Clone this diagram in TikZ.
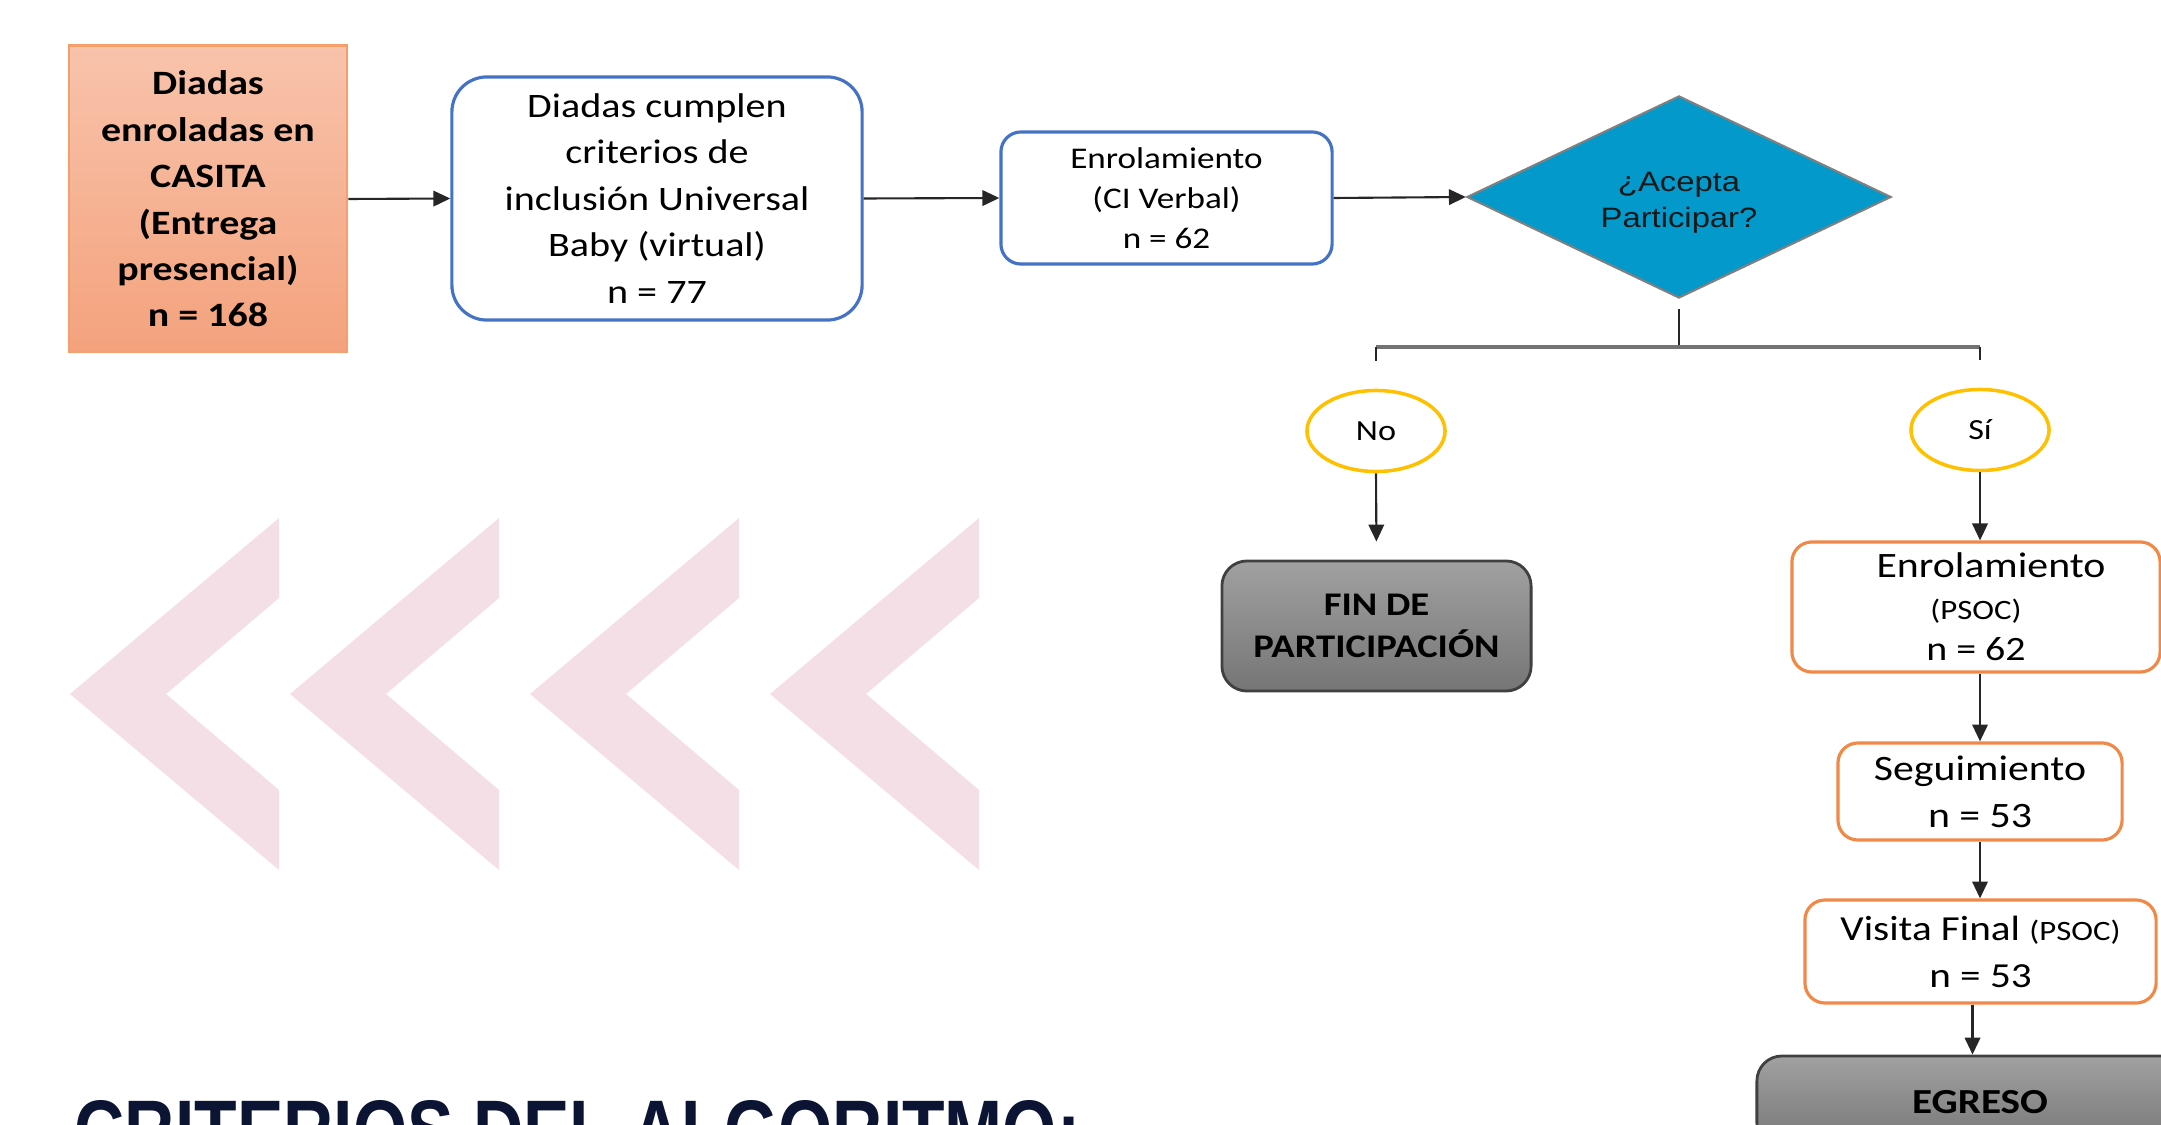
\documentclass[tikz,border=0pt]{standalone}
\usepackage{fontspec}
\usepackage{graphicx}
\setmainfont{Carlito}[FakeStretch=1.17]
\newfontfamily\arialf{Liberation Sans}[FakeStretch=1.17]
\newfontfamily\titlef{Liberation Sans}
\usetikzlibrary{shapes.geometric,arrows.meta}
\definecolor{pinkchev}{HTML}{F4DFE6}
\definecolor{bluebd}{HTML}{4472C4}
\definecolor{orangebd}{HTML}{F08848}
\definecolor{peachtop}{HTML}{F8C3AB}
\definecolor{peachbot}{HTML}{F4A27D}
\definecolor{peachbd}{HTML}{F5A06C}
\definecolor{diafill}{HTML}{0399CB}
\definecolor{yellbd}{HTML}{FFC000}
\definecolor{navy}{HTML}{0C1434}
\definecolor{linec}{HTML}{262626}
\tikzset{
  conn/.style={draw=linec, line width=0.6pt},
  arr/.style={conn, -{Triangle[length=4.8pt,width=4.4pt]}},
  bluebox/.style={draw=bluebd, line width=0.9pt, fill=white, rounded corners=0.3cm, inner sep=0pt, align=center},
  orbox/.style={draw=orangebd, line width=0.9pt, fill=white, rounded corners=0.2cm, inner sep=0pt, align=center},
  graybox/.style={draw=black!75, line width=0.8pt, top color=black!37, bottom color=black!54, rounded corners=0.25cm, inner sep=0pt, align=center, font=\fontsize{9.39pt}{11.9pt}\selectfont\bfseries},
  yesno/.style={ellipse, draw=yellbd, line width=1pt, fill=white, inner sep=0pt, minimum width=1.38cm, minimum height=0.81cm, font=\fontsize{8.3pt}{10pt}\selectfont},
  chev/.style={fill=pinkchev, draw=none}
}
\begin{document}
\begin{tikzpicture}[x=0.01cm,y=-0.01cm]
\useasboundingbox (0,0) rectangle (2161,1125);
\clip (0,0) rectangle (2161,1125);
% chevrons
\foreach \t in {70,290,530,770}{
  \fill[chev] (\t,694) -- (\t+209,518) -- (\t+209,598) -- (\t+96,694) -- (\t+209,790) -- (\t+209,870) -- cycle;
}
% nodes
\node[draw=peachbd, line width=0.8pt, top color=peachtop, bottom color=peachbot, minimum width=2.78cm, minimum height=3.06cm, inner sep=0pt, align=center, font=\fontsize{9.7pt}{13.2pt}\selectfont\bfseries] (b1) at (208,199) {Diadas\\enroladas en\\CASITA\\(Entrega\\presencial)\\n = 168};
\node[bluebox, rounded corners=0.35cm, minimum width=4.10cm, minimum height=2.43cm, font=\fontsize{9.75pt}{13.23pt}\selectfont] (b2) at (657,198.5) {Diadas cumplen\\criterios de\\inclusión Universal\\Baby (virtual)\\n = 77};
\node[bluebox, rounded corners=0.2cm, minimum width=3.31cm, minimum height=1.32cm, font=\fontsize{8.54pt}{11.4pt}\selectfont] (b3) at (1166.5,198) {Enrolamiento\\(CI Verbal)\\n = 62};
\node[diamond, aspect=2.1, draw=black!50, line width=0.6pt, fill=diafill, minimum width=4.24cm, minimum height=2.02cm, inner sep=0pt, align=center, font=\arialf\fontsize{7.97pt}{10.24pt}\selectfont, text=black!90] (dia) at (1679,197) {\rule{0pt}{9pt}¿Acepta\\Participar?};
\node[yesno] (no) at (1376,431) {No};
\node[yesno] (si) at (1980,430) {Sí};
\node[graybox, minimum width=3.09cm, minimum height=1.30cm] (fin) at (1376.5,626) {FIN DE\\PARTICIPACIÓN};
\node[orbox, minimum width=3.68cm, minimum height=1.30cm, font=\fontsize{10.16pt}{11.8pt}\selectfont] (en) at (1976,607) {\hspace*{0.3cm}Enrolamiento\\{\fontsize{7.97pt}{11.8pt}\selectfont (PSOC)}\\{\fontsize{9.7pt}{11.8pt}\selectfont n = 62}};
\node[orbox, minimum width=2.84cm, minimum height=0.97cm, font=\fontsize{10.16pt}{13.4pt}\selectfont] (seg) at (1980,791.5) {Seguimiento\\n = 53};
\node[orbox, minimum width=3.51cm, minimum height=1.03cm, font=\fontsize{10pt}{13.4pt}\selectfont] (vis) at (1980.5,951.5) {Visita Final {\fontsize{7.97pt}{13.4pt}\selectfont (PSOC)}\\n = 53};
\node[graybox, minimum width=4.46cm, minimum height=0.92cm, font=\fontsize{10pt}{12pt}\selectfont\bfseries] (egr) at (1980,1102) {EGRESO};
\node[anchor=north west, inner sep=0pt, text=navy] (title) at (74,1100) {\resizebox{10.05cm}{0.60cm}{\titlef\bfseries CRITERIOS DEL ALGORITMO:}};
% connectors
\draw[arr] (b1.east) -- (b2.west);
\draw[arr] (b2.east) -- (b3.west);
\draw[arr] (b3.east) -- (dia.west);
\coordinate (j) at (1679,347);
\draw[conn] ([yshift=-0.1cm]dia.south) -- (j);
\draw[draw=black!55, line width=1.1pt] (no.north |- j) -- (si.north |- j);
\draw[conn, shorten >=8] (no.north |- j) -- (no.north);
\draw[conn, shorten >=8] (si.north |- j) -- (si.north);
\draw[arr, shorten >=0.18cm] (no.south) -- (fin.north);
\draw[arr] (si.south) -- (si.south |- en.north);
\draw[arr] (si.south |- en.south) -- (si.south |- seg.north);
\draw[arr] (si.south |- seg.south) -- (si.south |- vis.north);
\draw[arr] ([xshift=-0.08cm]vis.south) -- ([xshift=-0.08cm]vis.south |- egr.north);
\end{tikzpicture}
\end{document}
